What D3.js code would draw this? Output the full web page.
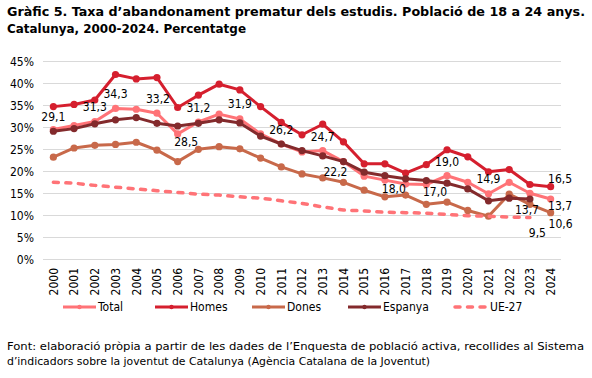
<!DOCTYPE html>
<head>
  <meta charset="utf-8">
  <script src="https://d3js.org/d3.v7.min.js"></script>
  <style>
    body { margin: 0; background: #fff; }
    text { font-family: "DejaVu Sans Condensed", "DejaVu Sans", sans-serif; fill: #000; }
  </style>
</head>

<body>
  <script>
  // data
  var years = d3.range(2000, 2025);
  var total   = [29.5,30.4,31.3,34.3,34.1,33.2,28.5,31.2,33.0,31.9,28.5,26.2,24.4,24.7,22.2,18.9,18.0,17.1,17.0,19.0,17.5,14.9,17.5,15.0,13.7];
  var homes   = [34.7,35.2,36.2,42.0,41.0,41.3,34.5,37.3,39.8,38.5,34.7,31.1,28.3,30.7,26.7,21.7,21.7,19.6,21.5,24.9,23.3,19.9,20.4,17.0,16.5];
  var dones   = [23.2,25.3,25.9,26.1,26.6,24.8,22.2,25.0,25.6,25.1,23.0,21.0,19.4,18.5,17.5,15.7,14.2,14.6,12.5,13.0,11.1,9.8,14.8,12.5,10.6];
  var espanya = [29.1,29.7,30.8,31.7,32.2,30.9,30.3,30.9,31.7,31.0,28.0,26.2,24.7,23.5,22.2,19.8,19.0,18.3,17.9,17.3,16.0,13.3,13.9,13.7,null];
  var ue27    = [17.5,17.3,16.8,16.4,16.0,15.6,15.2,14.8,14.6,14.2,13.9,13.3,12.7,11.9,11.2,11.0,10.7,10.6,10.5,10.2,9.9,9.8,9.6,9.5,null];
  var yTicks = d3.range(0, 46, 5);

  var series = [
    {name: "Total",   values: total,   color: "#ff7377", dash: false},
    {name: "Homes",   values: homes,   color: "#d51f2e", dash: false},
    {name: "Dones",   values: dones,   color: "#c8694a", dash: false},
    {name: "Espanya", values: espanya, color: "#832a2c", dash: false},
    {name: "UE-27",   values: ue27,    color: "#ff7377", dash: true}
  ];

  // which points carry a value label, and where the label sits (dx, dy from the point)
  var labelSpots = [
    ["Espanya", 2000, 0, -14.5], ["Total", 2002, 0, -15], ["Total", 2003, 0, -15],
    ["Total", 2005, 1, -15], ["Total", 2006, 8.5, 8], ["Total", 2007, 0, -14.5],
    ["Total", 2009, 0, -15], ["Total", 2011, 0, -14.5], ["Total", 2013, 0, -14.3],
    ["Total", 2014, -8, 9.7], ["Total", 2016, 9, 8.2], ["Total", 2018, 8.7, 7.5],
    ["Total", 2019, 0, -14.4], ["Total", 2021, 0, -15], ["Espanya", 2023, -3, 10.5],
    ["Homes", 2024, 9.5, -8], ["Total", 2024, 9.5, 6.5], ["Dones", 2024, 10, 11],
    ["UE-27", 2023, 7.5, 15.5]
  ];

  var W = 592, H = 378;
  var svg = d3.select("body").append("svg")
      .attr("width", W)
      .attr("height", H);

  // title
  var title = svg.append("g")
      .style("font-weight", "bold")
      .style("font-size", "12.5px");
  title.append("text")
      .attr("x", 7).attr("y", 16)
      .attr("textLength", 578).attr("lengthAdjust", "spacingAndGlyphs")
      .text("Gràfic 5. Taxa d’abandonament prematur dels estudis. Població de 18 a 24 anys.");
  title.append("text")
      .attr("x", 7).attr("y", 33)
      .attr("textLength", 239).attr("lengthAdjust", "spacingAndGlyphs")
      .text("Catalunya, 2000-2024. Percentatge");

  var x = d3.scalePoint()
      .domain(years)
      .range([43, 561])
      .padding(0.5);

  var y = d3.scaleLinear()
      .domain([0, 45])
      .range([259.3, 61.3]);

  // grid
  svg.append("g").selectAll("line")
    .data(yTicks)
    .enter().append("line")
      .attr("x1", 43).attr("x2", 561)
      .attr("y1", function(d) { return Math.round(y(d)) + 0.5; })
      .attr("y2", function(d) { return Math.round(y(d)) + 0.5; })
      .attr("stroke", "#d9d9d9")
      .attr("stroke-width", 1);

  svg.append("g").selectAll("text")
    .data(yTicks)
    .enter().append("text")
      .attr("x", 34)
      .attr("y", function(d) { return y(d); })
      .attr("dy", "0.36em")
      .attr("text-anchor", "end")
      .style("font-size", "12px")
      .text(function(d) { return d + "%"; });

  svg.append("g").selectAll("text")
    .data(years)
    .enter().append("text")
      .attr("transform", function(d) { return "translate(" + x(d) + ",268)rotate(-90)"; })
      .attr("dy", "0.36em")
      .attr("text-anchor", "end")
      .style("font-size", "12px")
      .text(function(d) { return d; });

  var line = d3.line()
      .defined(function(d) { return d.v != null; })
      .x(function(d) { return x(d.year); })
      .y(function(d) { return y(d.v); });

  series.forEach(function(s) {
    var pts = years.map(function(yr, i) { return {year: yr, v: s.values[i]}; });
    var g = svg.append("g");
    g.append("path")
        .datum(pts)
        .attr("fill", "none")
        .attr("stroke", s.color)
        .attr("stroke-width", s.dash ? 3.5 : 3)
        .attr("stroke-linejoin", "round")
        .attr("stroke-linecap", s.dash ? "round" : "butt")
        .attr("stroke-dasharray", s.dash ? "5,7.5" : null)
        .attr("d", line);
    if (!s.dash) {
      g.selectAll("circle")
        .data(pts.filter(function(d) { return d.v != null; }))
        .enter().append("circle")
          .attr("cx", function(d) { return x(d.year); })
          .attr("cy", function(d) { return y(d.v); })
          .attr("r", 3.6)
          .attr("fill", s.color);
    }
  });

  // value labels
  var fmt = d3.format(".1f");
  svg.append("g").selectAll("text")
    .data(labelSpots)
    .enter().append("text")
      .attr("x", function(d) { return x(d[1]) + d[2]; })
      .attr("y", function(d) {
        var s = series.find(function(e) { return e.name === d[0]; });
        return y(s.values[years.indexOf(d[1])]) + d[3];
      })
      .attr("dy", "0.36em")
      .attr("text-anchor", "middle")
      .style("font-size", "12px")
      .text(function(d) {
        var s = series.find(function(e) { return e.name === d[0]; });
        return fmt(s.values[years.indexOf(d[1])]).replace(".", ",");
      });

  // legend
  var legendX = [63, 155, 252, 348, 455];
  var legend = svg.append("g").selectAll("g")
    .data(series)
    .enter().append("g")
      .attr("transform", function(d, i) { return "translate(" + legendX[i] + ",307)"; });

  legend.append("line")
      .attr("x1", 0).attr("x2", 33)
      .attr("stroke", function(d) { return d.color; })
      .attr("stroke-width", function(d) { return d.dash ? 3.5 : 3; })
      .attr("stroke-linecap", function(d) { return d.dash ? "round" : "butt"; })
      .attr("stroke-dasharray", function(d) { return d.dash ? "5,7.5" : null; });

  legend.filter(function(d) { return !d.dash; }).append("circle")
      .attr("cx", 16.5)
      .attr("r", 2.2)
      .attr("fill", function(d) { return d.color; });

  legend.append("text")
      .attr("x", 35)
      .attr("dy", "0.36em")
      .style("font-size", "12px")
      .text(function(d) { return d.name; });

  // source note
  var note = svg.append("g").style("font-size", "11px");
  note.append("text")
      .attr("x", 7).attr("y", 350)
      .attr("textLength", 577).attr("lengthAdjust", "spacingAndGlyphs")
      .text("Font: elaboració pròpia a partir de les dades de l’Enquesta de població activa, recollides al Sistema");
  note.append("text")
      .attr("x", 7).attr("y", 365)
      .attr("textLength", 423).attr("lengthAdjust", "spacingAndGlyphs")
      .text("d’indicadors sobre la joventut de Catalunya (Agència Catalana de la Joventut)");
  </script>
</body>
